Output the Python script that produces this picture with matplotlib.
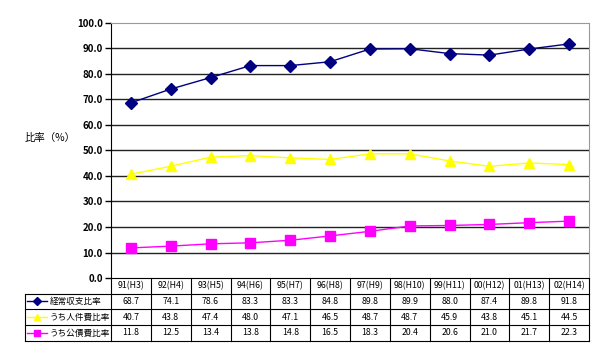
import matplotlib
matplotlib.use('Agg')
import matplotlib.pyplot as plt

plt.rcParams['font.family'] = ['Noto Sans CJK JP', 'DejaVu Sans']

years = ['91(H3)', '92(H4)', '93(H5)', '94(H6)', '95(H7)', '96(H8)',
         '97(H9)', '98(H10)', '99(H11)', '00(H12)', '01(H13)', '02(H14)']
keijo = [68.7, 74.1, 78.6, 83.3, 83.3, 84.8, 89.8, 89.9, 88.0, 87.4, 89.8, 91.8]
jinken = [40.7, 43.8, 47.4, 48.0, 47.1, 46.5, 48.7, 48.7, 45.9, 43.8, 45.1, 44.5]
kosai = [11.8, 12.5, 13.4, 13.8, 14.8, 16.5, 18.3, 20.4, 20.6, 21.0, 21.7, 22.3]

series = [
    ('経常収支比率', keijo, '#000080', 'D', 6),
    ('うち人件費比率', jinken, '#FFFF00', '^', 7),
    ('うち公債費比率', kosai, '#FF00FF', 's', 7),
]

fig = plt.figure(figsize=(6, 3.56), dpi=100)
ax = fig.add_axes([0.185, 0.2191, 0.7967, 0.7163])

x = list(range(len(years)))
for name, vals, col, mk, ms in series:
    ax.plot(x, vals, color=col, marker=mk, markersize=ms, linewidth=1, zorder=3)

ax.set_xlim(-0.5, len(years) - 0.5)
ax.set_ylim(0, 100)
ax.set_yticks(range(0, 101, 10))
ax.set_yticklabels(['%.1f' % v for v in range(0, 101, 10)], fontsize=7, fontweight='bold')
ax.tick_params(axis='y', length=4, width=1, pad=2)
ax.set_xticks([])
for v in range(10, 100, 10):
    ax.axhline(v, color='#222222', linewidth=1, zorder=1)
ax.spines['top'].set_color('#999999')
ax.spines['right'].set_color('#999999')
ax.spines['left'].set_color('black')
ax.spines['bottom'].set_color('black')

# y label sits horizontally left of the tick labels
ax.text(-0.18, 0.549, '比率（%）', transform=ax.transAxes, fontsize=7.5,
        ha='left', va='center')

# data table below the plot
T = ax.transAxes
n = len(years)
left = -0.18
rows = [0, -0.0627, -0.1216, -0.1843, -0.247]
kw = dict(transform=T, clip_on=False, color='black', linewidth=0.8)

for i in range(n + 1):
    ax.plot([i / n, i / n], [rows[0], rows[-1]], **kw)
ax.plot([left, left], [rows[1], rows[-1]], **kw)
for r in rows[1:]:
    ax.plot([left, 1], [r, r], **kw)

for i, yr in enumerate(years):
    ax.text((i + 0.5) / n, (rows[0] + rows[1]) / 2, yr, transform=T,
            ha='center', va='center', fontsize=6.3)

for k, (name, vals, col, mk, ms) in enumerate(series):
    yc = (rows[k + 1] + rows[k + 2]) / 2
    ax.plot([-0.175, -0.133], [yc, yc], color=col, linewidth=1, transform=T, clip_on=False)
    ax.plot([-0.154], [yc], color=col, marker=mk, markersize=ms - 2, transform=T, clip_on=False)
    ax.text(-0.128, yc, name, transform=T, ha='left', va='center', fontsize=6.2)
    for i, v in enumerate(vals):
        ax.text((i + 0.5) / n, yc, '%.1f' % v, transform=T,
                ha='center', va='center', fontsize=6.3)

fig.savefig('out.png', dpi=100)
